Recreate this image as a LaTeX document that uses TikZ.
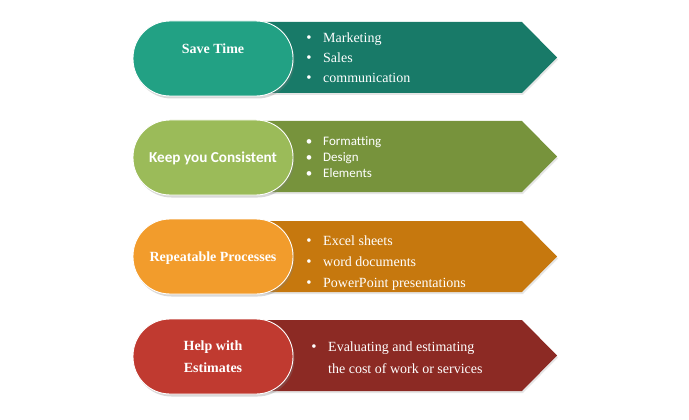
\documentclass[tikz,border=0pt]{standalone}
\usepackage{fontspec}
\setmainfont{Liberation Serif}
\newfontfamily\calibri[Ligatures=NoCommon]{Carlito}
\usetikzlibrary{shadows}
\definecolor{tealP}{HTML}{22A184}
\definecolor{tealA}{HTML}{187A68}
\definecolor{greenP}{HTML}{9BBB59}
\definecolor{greenA}{HTML}{77933C}
\definecolor{orangeP}{HTML}{F29C2C}
\definecolor{orangeA}{HTML}{C6780E}
\definecolor{redP}{HTML}{C03A30}
\definecolor{redA}{HTML}{8C2A24}
\tikzset{
  pill/.style={draw=white, line width=0.9pt, rounded corners=37pt,
    minimum width=160pt, minimum height=75pt, inner sep=0pt,
    drop shadow={opacity=0.3, shadow xshift=1.5pt, shadow yshift=-2.5pt}},
  arrowshape/.style={drop shadow={opacity=0.2, shadow xshift=1pt, shadow yshift=-2pt}},
  ptext/.style={text=white, inner sep=0pt, anchor=base, font=\fontsize{14}{16}\selectfont\bfseries},
  btext/.style={text=white, inner sep=0pt, anchor=base west, font=\fontsize{14}{16}\selectfont},
  bdot/.style={text=white, inner sep=0pt, anchor=base, font=\fontsize{15}{16}\selectfont},
  ctext/.style={text=white, inner sep=0pt, anchor=base west, font=\calibri\fontsize{13}{15}\selectfont},
  cdot/.style={text=white, inner sep=0pt, anchor=base, font=\calibri\fontsize{13}{15}\selectfont},
}
\begin{document}
\begin{tikzpicture}[x=1pt,y=-1pt]
\useasboundingbox (0,0) rectangle (689,420);
% Row 1
\fill[tealA, arrowshape] (250,22) -- (522,22) -- (557,57.5) -- (522,93) -- (250,93) -- cycle;
\node[pill, fill=tealP] (p1) at (213,58.5) {};
\node[ptext] (t1) at (213,53.3) {Save Time};
\node[bdot] (d1a) at (309,42.5) {•};
\node[btext] (b1a) at (323,42.5) {Marketing};
\node[bdot] (d1b) at (309,62.5) {•};
\node[btext] (b1b) at (323,62.5) {Sales};
\node[bdot] (d1c) at (309,82.5) {•};
\node[btext] (b1c) at (323,82.5) {communication};
% Row 2
\fill[greenA, arrowshape] (250,121) -- (522,121) -- (557,156.5) -- (522,192) -- (250,192) -- cycle;
\node[pill, fill=greenP] (p2) at (213,157.5) {};
\node[ptext, font=\calibri\fontsize{15.2}{16}\selectfont\bfseries] (t2) at (213,162.5) {Keep you Consistent};
\node[cdot] (d2a) at (309,145.7) {•};
\node[ctext] (b2a) at (323,145.7) {Formatting};
\node[cdot] (d2b) at (309,161.7) {•};
\node[ctext] (b2b) at (323,161.7) {Design};
\node[cdot] (d2c) at (309,177.7) {•};
\node[ctext] (b2c) at (323,177.7) {Elements};
% Row 3
\fill[orangeA, arrowshape] (250,221) -- (522,221) -- (557,256.5) -- (522,292) -- (250,292) -- cycle;
\node[pill, fill=orangeP] (p3) at (213,256.5) {};
\node[ptext] (t3) at (213,261) {Repeatable Processes};
\node[bdot] (d3a) at (309,245) {•};
\node[btext] (b3a) at (323,245) {Excel sheets};
\node[bdot] (d3b) at (309,266) {•};
\node[btext] (b3b) at (323,266) {word documents};
\node[bdot] (d3c) at (309,287) {•};
\node[btext] (b3c) at (323,287) {PowerPoint presentations};
% Row 4
\fill[redA, arrowshape] (250,320) -- (522,320) -- (557,355.5) -- (522,391) -- (250,391) -- cycle;
\node[pill, fill=redP] (p4) at (213,356.5) {};
\node[ptext] (t4a) at (213,350.3) {Help with};
\node[ptext] (t4b) at (213,372.3) {Estimates};
\node[bdot] (d4a) at (314,351.3) {•};
\node[btext] (b4a) at (328,351.3) {Evaluating and estimating};
\node[btext] (b4b) at (328,373.7) {the cost of work or services};
\end{tikzpicture}
\end{document}
